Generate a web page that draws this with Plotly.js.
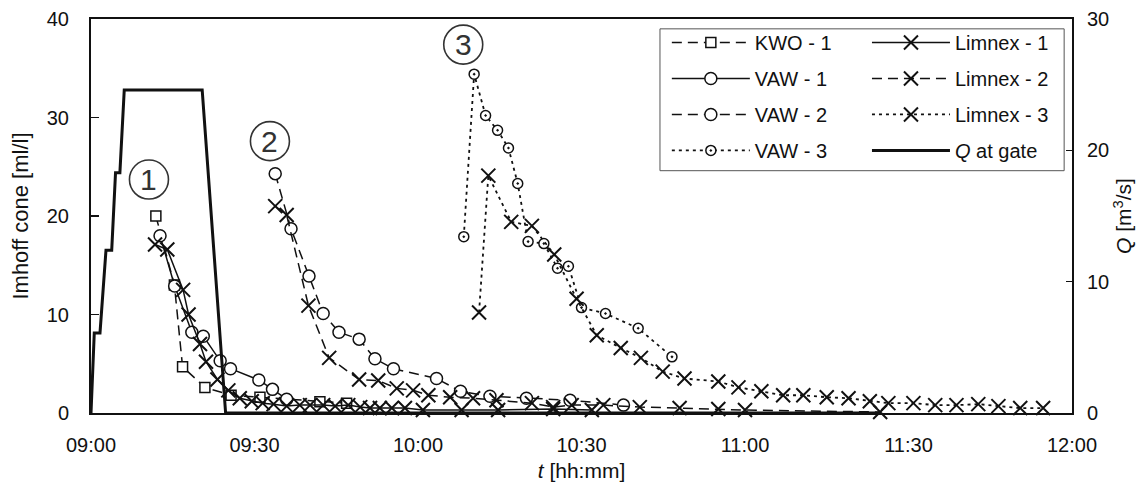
<!DOCTYPE html>
<html>
<head>
<meta charset="utf-8">
<script src="https://cdn.plot.ly/plotly-3.0.1.min.js"></script>
<style>html,body{margin:0;padding:0;background:#fff}#chart{width:1143px;height:501px}</style>
</head>
<body>
<div id="chart"></div>
<script>
// ---- data (times hh:mm:ss, values in ml/l; Q in m3/s) ----
const kwo1T = ["09:11:54","09:15:18","09:16:48","09:20:54","09:25:42","09:31:00","09:42:00","09:46:54"];
const kwo1V = [20.0, 13.0, 4.7, 2.6, 1.8, 1.6, 1.15, 1.0];

const vaw1T = ["09:12:40","09:15:21","09:18:30","09:20:36","09:23:42","09:25:36","09:30:48","09:33:18","09:35:54"];
const vaw1V = [18.0, 12.9, 8.2, 7.8, 5.3, 4.5, 3.35, 2.4, 1.4];

const vaw2T = ["09:33:48","09:36:42","09:40:00","09:42:36","09:45:30","09:49:12","09:52:06","09:55:30","10:03:24","10:07:48","10:13:12","10:19:54","10:27:54","10:37:42"];
const vaw2V = [24.3, 18.7, 13.9, 10.1, 8.2, 7.5, 5.5, 4.5, 3.5, 2.2, 1.7, 1.5, 1.3, 0.8];

const vaw3T = ["10:08:24","10:10:18","10:12:24","10:14:36","10:16:36","10:18:18","10:20:12","10:23:06","10:25:36","10:27:36","10:30:00","10:34:24","10:40:24","10:46:36"];
const vaw3V = [17.9, 34.4, 30.2, 28.7, 26.9, 23.3, 17.4, 17.2, 14.7, 14.9, 10.7, 10.1, 8.6, 5.7];

const lim1T = ["09:11:45","09:14:00","09:16:54","09:17:54","09:20:00","09:21:06","09:23:12","09:25:12","09:27:18","09:29:30","09:31:30","09:33:30","09:35:54","09:38:18","09:40:12","09:42:36","09:44:48","09:47:12","09:49:24","09:51:12","09:53:00","09:55:12","09:57:36","10:00:54","10:08:00","10:14:42","10:24:48","10:31:54"];
const lim1V = [17.1, 16.6, 12.5, 10.0, 7.0, 5.2, 3.4, 2.3, 1.5, 1.2, 1.0, 0.9, 0.7, 0.8, 0.8, 0.8, 0.7, 0.8, 0.6, 0.5, 0.5, 0.5, 0.5, 0.3, 0.3, 0.3, 0.4, 0.3];

const lim2T = ["09:33:48","09:35:54","09:39:54","09:43:42","09:49:12","09:52:42","09:56:06","09:59:06","10:01:54","10:05:54","10:10:06","10:14:24","10:20:54","10:24:48","10:28:12","10:34:00","10:40:42","10:48:00","10:55:06","11:00:00","11:24:48"];
const lim2V = [21.0, 20.1, 10.9, 5.6, 3.4, 3.3, 2.5, 2.3, 1.8, 1.6, 1.5, 1.3, 1.0, 0.6, 0.8, 0.8, 0.6, 0.5, 0.4, 0.3, 0.1];

const lim3T = ["10:11:12","10:12:54","10:17:06","10:20:54","10:25:00","10:29:06","10:32:48","10:37:12","10:40:54","10:44:54","10:48:54","10:55:06","10:58:48","11:03:00","11:07:00","11:10:42","11:15:00","11:19:00","11:22:54","11:26:18","11:30:54","11:34:54","11:38:48","11:42:48","11:46:30","11:50:30","11:54:42"];
const lim3V = [10.2, 24.1, 19.4, 19.0, 16.1, 11.6, 7.9, 6.6, 5.6, 4.2, 3.5, 3.2, 2.6, 2.2, 1.8, 1.8, 1.6, 1.5, 1.2, 1.0, 1.0, 0.8, 0.8, 0.9, 0.7, 0.5, 0.5];

const qT = ["09:00:00","09:00:36","09:01:39","09:02:45","09:03:48","09:04:30","09:05:18","09:06:06","09:20:24","09:24:42","11:24:48"];
const qV = [0, 6.1, 6.1, 12.4, 12.4, 18.3, 18.3, 24.6, 24.6, 0, 0];

const xTickRange = ["09:00:00", "12:00:00"];
const eventLabels = ["1", "2", "3"];
const eventT = ["09:10:38", "09:32:50", "10:08:18"];
const eventV = [23.7, 27.6, 37.4];

// ---- helpers ----
const D = s => "2000-01-01 " + s;
const ink = "#111";
const FONT = "Liberation Sans, Arial, sans-serif";
const TICK = 20, TITLE = 21, LEG = 20;

function tr(name, T, V, o) {
  return Object.assign({
    type: "scatter", mode: "lines+markers", name: name,
    x: T.map(D), y: V, cliponaxis: false
  }, o);
}
const dashed = "10px,6px";
const dotted = "3px,4px";

const traces = [
  tr("Q at gate", qT, qV, {mode: "lines", yaxis: "y2", line: {color: ink, width: 3}, legend: "legend2", legendrank: 4, legendgroup: "g8", name: "<i>Q</i> at gate"}),
  tr("KWO - 1", kwo1T, kwo1V, {line: {color: ink, width: 1.5, dash: dashed}, marker: {symbol: "square", size: 10, color: "#fff", line: {color: ink, width: 1.5}}, legend: "legend", legendrank: 1, legendgroup: "g1"}),
  tr("VAW - 1", vaw1T, vaw1V, {line: {color: ink, width: 1.5}, marker: {symbol: "circle", size: 12, color: "#fff", line: {color: ink, width: 1.5}}, legend: "legend", legendrank: 2, legendgroup: "g2"}),
  tr("VAW - 2", vaw2T, vaw2V, {line: {color: ink, width: 1.5, dash: dashed}, marker: {symbol: "circle", size: 12, color: "#fff", line: {color: ink, width: 1.5}}, legend: "legend", legendrank: 3, legendgroup: "g3"}),
  tr("VAW - 3", vaw3T, vaw3V, {line: {color: ink, width: 1.8, dash: dotted}, marker: {symbol: "circle-dot", size: 10, color: "#fff", line: {color: ink, width: 1.5}}, legend: "legend", legendrank: 4, legendgroup: "g4"}),
  tr("Limnex - 1", lim1T, lim1V, {line: {color: ink, width: 1.5}, marker: {symbol: "x-thin", size: 14, color: ink, line: {color: ink, width: 2}}, legend: "legend2", legendrank: 1, legendgroup: "g5"}),
  tr("Limnex - 2", lim2T, lim2V, {line: {color: ink, width: 1.5, dash: dashed}, marker: {symbol: "x-thin", size: 14, color: ink, line: {color: ink, width: 2}}, legend: "legend2", legendrank: 2, legendgroup: "g6"}),
  tr("Limnex - 3", lim3T, lim3V, {line: {color: ink, width: 1.8, dash: dotted}, marker: {symbol: "x-thin", size: 14, color: ink, line: {color: ink, width: 2}}, legend: "legend2", legendrank: 3, legendgroup: "g7"})
];

const legendCommon = {
  orientation: "v", traceorder: "grouped", tracegroupgap: 7,
  font: {family: FONT, size: LEG, color: ink},
  bgcolor: "rgba(0,0,0,0)", borderwidth: 0,
  itemwidth: 78, itemclick: false, itemdoubleclick: false,
  xanchor: "left", yanchor: "top", y: 0.99
};

const shapes = [
  {type: "rect", xref: "paper", yref: "paper", x0: 0.580, x1: 0.992, y0: 0.615, y1: 0.975,
   line: {color: "#555", width: 1}, fillcolor: "rgba(0,0,0,0)", layer: "above"}
];
const annotations = [];
eventLabels.forEach((lab, i) => {
  shapes.push({type: "circle", xref: "x", yref: "y", xsizemode: "pixel", ysizemode: "pixel",
    xanchor: D(eventT[i]), yanchor: eventV[i], x0: -19.5, x1: 19.5, y0: -19.5, y1: 19.5,
    line: {color: "#333", width: 1.6}});
  annotations.push({xref: "x", yref: "y", x: D(eventT[i]), y: eventV[i], text: lab, showarrow: false,
    font: {family: FONT, size: 30, color: "#333"}, xanchor: "center", yanchor: "middle"});
});

const layout = {
  width: 1143, height: 501,
  margin: {l: 91, r: 71, t: 19, b: 88, pad: 0},
  paper_bgcolor: "#fff", plot_bgcolor: "#fff",
  font: {family: FONT, size: TICK, color: ink},
  showlegend: true,
  xaxis: {
    type: "date", range: xTickRange.map(D), dtick: 1800000, tick0: D("09:00:00"),
    tickformat: "%H:%M", ticks: "", showgrid: false, zeroline: false,
    showline: true, linecolor: ink, linewidth: 2, mirror: true,
    tickfont: {family: FONT, size: TICK, color: ink}, ticklabelstandoff: 13,
    title: {text: "<i>t</i> [hh:mm]", font: {family: FONT, size: TITLE, color: ink}, standoff: 8}
  },
  yaxis: {
    range: [0, 40], dtick: 10, ticks: "inside", ticklen: 8, tickwidth: 1.5, tickcolor: ink,
    showgrid: false, zeroline: false, showline: true, linecolor: ink, linewidth: 2, mirror: true,
    tickfont: {family: FONT, size: TICK, color: ink}, ticklabelstandoff: 16,
    title: {text: "Imhoff cone [ml/l]", font: {family: FONT, size: 22, color: ink}, standoff: 12}
  },
  yaxis2: {
    overlaying: "y", side: "right", range: [0, 30], dtick: 10,
    ticks: "inside", ticklen: 6, tickwidth: 1.5, tickcolor: ink,
    showgrid: false, zeroline: false, showline: false,
    tickfont: {family: FONT, size: TICK, color: ink}, ticklabelstandoff: 14,
    title: {text: "<i>Q</i> [m<sup>3</sup>/s]", font: {family: FONT, size: TITLE, color: ink}, standoff: 8}
  },
  legend: Object.assign({}, legendCommon, {x: 0.587}),
  legend2: Object.assign({}, legendCommon, {x: 0.791}),
  shapes: shapes,
  annotations: annotations
};

Plotly.newPlot("chart", traces, layout, {staticPlot: true, displayModeBar: false});
</script>
</body>
</html>
